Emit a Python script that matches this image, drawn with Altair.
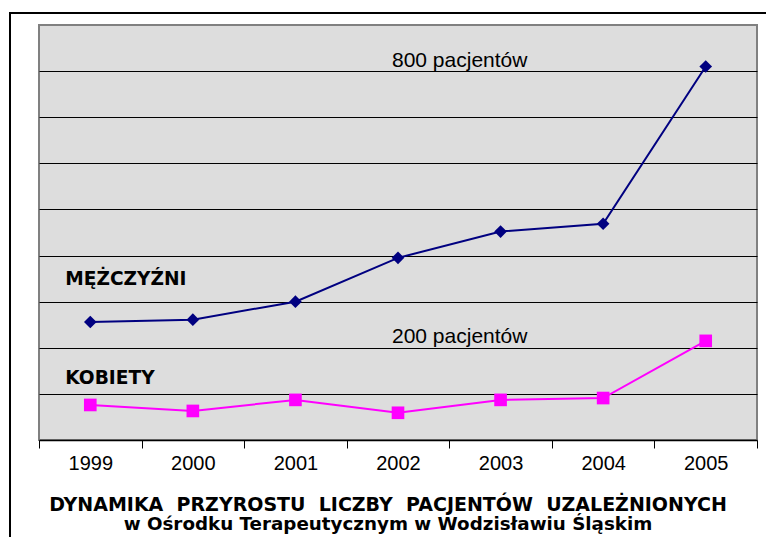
import altair as alt
import pandas as pd

years = ["1999", "2000", "2001", "2002", "2003", "2004", "2005"]
men = [256, 261, 300, 395, 452, 469, 810]
women = [76, 63, 87, 59, 87, 91, 215]

grid_values = [100, 200, 300, 400, 500, 600, 700, 800]

ann_plain_text = ["800 pacjentów", "200 pacjentów"]
ann_plain_year = ["2002", "2002"]
ann_plain_value = [800, 200]

ann_bold_text = ["MĘŻCZYŹNI", "KOBIETY"]
ann_bold_year = ["1999", "1999"]
ann_bold_value = [300, 100]

NB = "\u00a0"
title_lines = [
    f"DYNAMIKA {NB}PRZYROSTU {NB}LICZBY {NB}PACJENTÓW {NB}UZALEŻNIONYCH",
    "w Ośrodku Terapeutycznym w Wodzisławiu Śląskim",
]

df = pd.DataFrame({
    "year": years * 2,
    "value": men + women,
    "series": ["Mężczyźni"] * len(years) + ["Kobiety"] * len(years),
})

x_enc = alt.X(
    "year:N",
    sort=years,
    scale=alt.Scale(paddingInner=0, paddingOuter=0),
    axis=alt.Axis(
        title=None, labelAngle=0, tickBand="extent", ticks=True, tickSize=8,
        tickColor="black", domainColor="black", domainWidth=1.5,
        labelFont="Liberation Sans", labelFontSize=20, labelColor="black",
        labelPadding=5, grid=False,
    ),
)
y_scale = alt.Scale(domain=[0, 900], nice=False, zero=True)
y_enc = alt.Y(
    "value:Q",
    scale=y_scale,
    axis=alt.Axis(
        title=None, values=grid_values, labels=False, ticks=False, domain=False,
        grid=True, gridColor="black", gridWidth=1, gridOpacity=1,
    ),
)

color_scale = alt.Scale(domain=["Mężczyźni", "Kobiety"], range=["#000080", "#FF00FF"])
shape_scale = alt.Scale(domain=["Mężczyźni", "Kobiety"], range=["diamond", "square"])

lines = alt.Chart(df).mark_line(strokeWidth=2).encode(
    x=x_enc, y=y_enc,
    color=alt.Color("series:N", scale=color_scale, legend=None),
    detail="series:N",
)
points = alt.Chart(df).mark_point(filled=True, size=160, opacity=1).encode(
    x=alt.X("year:N", sort=years),
    y=alt.Y("value:Q", scale=y_scale),
    color=alt.Color("series:N", scale=color_scale, legend=None),
    shape=alt.Shape("series:N", scale=shape_scale, legend=None),
)

plain_df = pd.DataFrame({"t": ann_plain_text, "year": ann_plain_year, "v": ann_plain_value})
bold_df = pd.DataFrame({"t": ann_bold_text, "year": ann_bold_year, "v": ann_bold_value})

def txt(d, i, font, size, bold, dx, dy):
    return alt.Chart(d.iloc[[i]]).mark_text(
        align="left", baseline="alphabetic", font=font, fontSize=size,
        fontWeight="bold" if bold else "normal", color="black", dx=dx, dy=dy,
    ).encode(
        x=alt.X("year:N", sort=years),
        y=alt.Y("v:Q", scale=y_scale),
        text="t:N",
    )

t1 = txt(plain_df, 0, "Liberation Sans", 21, False, -6, -4)
t2 = txt(plain_df, 1, "Liberation Sans", 21, False, -6, -5)
t3 = txt(bold_df, 0, "DejaVu Sans", 18.6, True, -25, -17)
t4 = txt(bold_df, 1, "DejaVu Sans", 18.6, True, -25, -10)

title_df = pd.DataFrame({"t": title_lines})

def title_line(i, ypx, size):
    return alt.Chart(title_df.iloc[[i]]).mark_text(
        align="center", baseline="alphabetic", font="DejaVu Sans",
        fontSize=size, fontWeight="bold", color="black",
    ).encode(x=alt.value(349), y=alt.value(ypx), text="t:N")

title1 = title_line(0, 486, 19)
title2 = title_line(1, 505, 18.3)

frame = alt.Chart(pd.DataFrame({"k": [0]})).mark_rect(
    fillOpacity=0, stroke="black", strokeWidth=2
).encode(
    x=alt.value(-29), x2=alt.value(900), y=alt.value(-12), y2=alt.value(800)
)

chart = alt.layer(lines, points, t1, t2, t3, t4, title1, title2, frame).properties(
    width=718,
    height=415,
    padding={"left": 31, "top": 17, "right": 9, "bottom": 97},
    autosize=alt.AutoSizeParams(type="none"),
    background="white",
).configure_view(
    fill="#DDDDDD", stroke="#808080", strokeWidth=2
)

chart.save("out.html", embed_options={"renderer": "svg", "actions": False})
